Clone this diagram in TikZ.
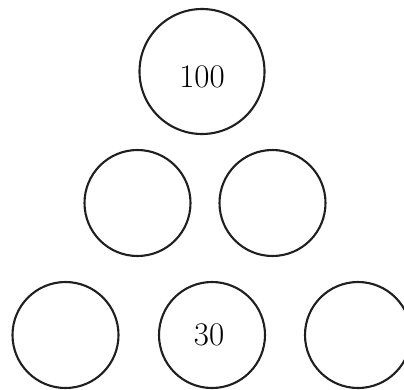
\documentclass[tikz,border=0pt]{standalone}
\begin{document}
\begin{tikzpicture}[x=1pt,y=-1pt,
  ball/.style={circle,draw=black!88,line width=2.1pt,inner sep=0pt,minimum size=#1},
  ball/.default=106,
  num/.style={font=\fontsize{33}{40}\selectfont,inner sep=0pt}]
\useasboundingbox (0,0) rectangle (404,389);
\node[ball=125] (top) at (202,71.5) {};
\node[num] (t100) at ([yshift=-5pt]top.center) {100};
\node[ball] (ml) at (137.5,203) {};
\node[ball] (mr) at (272.5,203) {};
\node[ball] (bl) at (65.5,335) {};
\node[ball] (bm) at (212,335) {};
\node[ball] (br) at (358,335) {};
\node[num] (t30) at ([xshift=-3pt]bm.center) {30};
\end{tikzpicture}
\end{document}
